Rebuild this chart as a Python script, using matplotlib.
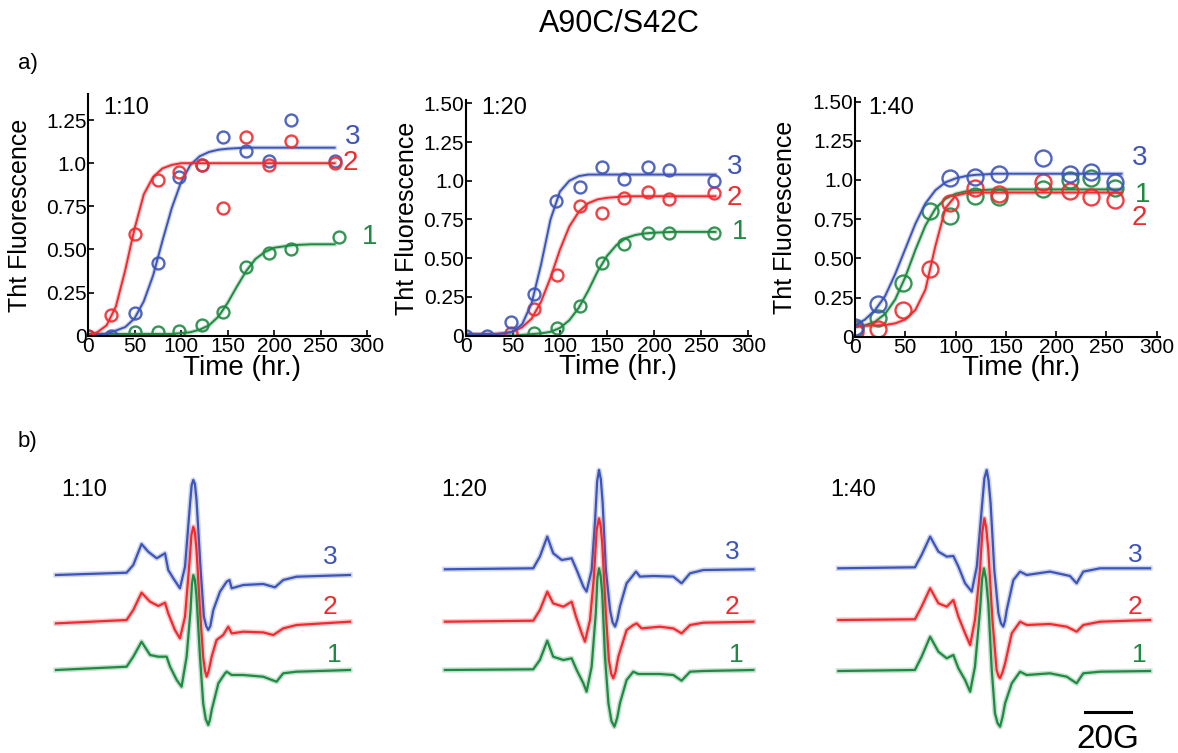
import matplotlib.pyplot as plt
import matplotlib.patheffects as pe

plt.rcParams['font.family'] = ['Liberation Sans', 'DejaVu Sans']

BLUE = '#3d55b9'
RED = '#f02a2e'
GREEN = '#1f8a42'
W, H = 1178, 753

# ---- ThT kinetics (hr, normalised fluorescence) ----
# 1:10
t10 = [0, 25, 50, 75, 98, 122, 145, 170, 195, 218, 265]
tht10_3 = [0.0, 0.0, 0.13, 0.42, 0.92, 0.99, 1.15, 1.07, 1.01, 1.25, 1.01]
tht10_2 = [0.0, 0.12, 0.59, 0.90, 0.95, 0.99, 0.74, 1.15, 0.99, 1.13, 1.00]
t10_1 = [50, 75, 98, 122, 145, 170, 195, 218, 270]
tht10_1 = [0.02, 0.02, 0.03, 0.06, 0.14, 0.40, 0.48, 0.50, 0.57]
# 1:20
t20 = [0, 23, 48, 73, 96, 121, 145, 168, 193, 216, 263]
tht20_3 = [0.0, 0.0, 0.09, 0.27, 0.87, 0.96, 1.09, 1.01, 1.09, 1.07, 1.00]
t20_2 = [48, 73, 97, 121, 145, 168, 193, 216, 263]
tht20_2 = [0.02, 0.17, 0.39, 0.84, 0.79, 0.89, 0.93, 0.88, 0.92]
t20_1 = [73, 97, 121, 145, 168, 193, 216, 263]
tht20_1 = [0.02, 0.05, 0.19, 0.47, 0.59, 0.66, 0.66, 0.66]
# 1:40
t40 = [0, 23, 48, 75, 94, 119, 143, 187, 214, 235, 259]
t40_3 = [0, 23, 94, 119, 143, 187, 214, 235, 259]
tht40_3 = [0.06, 0.21, 1.01, 1.02, 1.04, 1.14, 1.04, 1.05, 0.99]
tht40_2 = [0.03, 0.05, 0.17, 0.43, 0.85, 0.95, 0.91, 0.99, 0.93, 0.89, 0.87]
tht40_1 = [0.05, 0.12, 0.34, 0.80, 0.77, 0.90, 0.89, 0.94, 1.00, 1.01, 0.95]

# sigmoidal fits, sampled along the fitted curves
fit_t = [0, 10, 20, 30, 40, 50, 60, 70, 80, 90, 100, 110, 120, 130, 140,
         150, 160, 170, 180, 190, 200, 220, 240, 265]
fit10_3 = [0.0, 0.01, 0.01, 0.03, 0.05, 0.10, 0.20, 0.35, 0.55, 0.74, 0.89, 0.99,
           1.04, 1.065, 1.078, 1.084, 1.087, 1.09, 1.09, 1.09, 1.09, 1.09, 1.09, 1.09]
fit10_2 = [0.0, 0.02, 0.06, 0.17, 0.38, 0.62, 0.82, 0.92, 0.97, 0.99, 1.0, 1.0,
           1.0, 1.0, 1.0, 1.0, 1.0, 1.0, 1.0, 1.0, 1.0, 1.0, 1.0, 1.0]
fit10_1 = [0.01, 0.01, 0.01, 0.01, 0.01, 0.01, 0.01, 0.01, 0.01, 0.01, 0.015, 0.02,
           0.035, 0.06, 0.11, 0.19, 0.285, 0.375, 0.445, 0.485, 0.51, 0.525, 0.53, 0.53]
fit20_3 = [0.01, 0.01, 0.01, 0.01, 0.015, 0.025, 0.075, 0.21, 0.46, 0.75, 0.93, 1.0,
           1.03, 1.04, 1.04, 1.04, 1.04, 1.04, 1.04, 1.04, 1.04, 1.04, 1.04, 1.04]
fit20_2 = [0.01, 0.01, 0.01, 0.01, 0.015, 0.025, 0.055, 0.11, 0.22, 0.375, 0.555, 0.705,
           0.80, 0.855, 0.88, 0.89, 0.895, 0.90, 0.90, 0.90, 0.90, 0.90, 0.90, 0.90]
fit20_1 = [0.0, 0.0, 0.0, 0.0, 0.0, 0.0, 0.005, 0.01, 0.015, 0.025, 0.05, 0.10,
           0.18, 0.29, 0.415, 0.515, 0.585, 0.63, 0.65, 0.66, 0.665, 0.67, 0.67, 0.67]
fit40_3 = [0.07, 0.11, 0.17, 0.26, 0.40, 0.56, 0.72, 0.85, 0.935, 0.985, 1.01, 1.025,
           1.033, 1.036, 1.04, 1.04, 1.04, 1.04, 1.04, 1.04, 1.04, 1.04, 1.04, 1.04]
fit40_2 = [0.07, 0.07, 0.072, 0.075, 0.085, 0.11, 0.17, 0.30, 0.58, 0.82, 0.90, 0.915,
           0.92, 0.92, 0.92, 0.92, 0.92, 0.92, 0.92, 0.92, 0.92, 0.92, 0.92, 0.92]
fit40_1 = [0.06, 0.072, 0.096, 0.146, 0.238, 0.38, 0.553, 0.709, 0.818, 0.88, 0.912, 0.927,
           0.934, 0.937, 0.94, 0.94, 0.94, 0.94, 0.94, 0.94, 0.94, 0.94, 0.94, 0.94]

# ---- EPR first-derivative spectra (field in G from centre line, signal a.u.) ----
field10_3 = [-59.7, -29.0, -26.1, -22.5, -19.6, -15.9, -12.3, -10.9, -8.7, -5.8, -3.6, -1.4, -0.7, 0, 0.7,
             1.4, 3.2, 4.6, 5.6, 6.5, 7.4, 8.7, 11.6, 14.5, 15.7, 16.7, 21.7, 30.4, 35.5, 39.1, 44.9, 68.1]
epr10_3 = [0, 2.3, 10, 31, 23.3, 16.7, 21.7, 5, -3.3, -13.3, 8.3, 71.7, 90, 95, 91,
           75, 5, -41.7, -51, -55, -51, -35, -16.7, -6.7, -5, -13.3, -10, -9, -12.3, -5, -1.7, 0]
field10_2 = [-59.7, -29.0, -26.1, -22.5, -18.8, -15.2, -12.3, -10.9, -8.0, -5.8, -3.6, -1.7, -0.8, 0, 0.7,
             1.4, 2.9, 4.3, 5.1, 5.8, 6.7, 8.0, 10.1, 13.0, 15.2, 16.7, 21.7, 30.4, 34.8, 39.1, 44.9, 68.1]
epr10_2 = [-0.7, 2.7, 12.7, 30, 21, 16.7, 20, 9.3, -7.3, -15.7, 6, 59.3, 88, 96, 90,
           72.7, 12.7, -34, -48, -54, -48, -34, -17.3, -12.3, -4, -10.7, -9, -9.7, -12.3, -5.7, -2.3, 1]
field10_1 = [-59.7, -29.0, -26.1, -22.5, -18.8, -15.2, -11.6, -10.1, -7.2, -5.1, -2.9, -1.2, -0.6, 0, 0.7,
             1.4, 2.9, 4.3, 5.4, 6.5, 7.2, 8.0, 10.9, 13.8, 14.5, 16.7, 21.7, 30.4, 36.2, 39.1, 44.9, 68.1]
epr10_1 = [0, 3.3, 13.3, 28.3, 15, 13.3, 13.3, 3.3, -10, -16.7, 13.3, 60, 86, 95, 90,
           73.3, 13.3, -33.3, -49, -55, -50, -40, -13.3, -3.3, -1.7, -5, -5, -6.7, -11.7, -3.3, -1.7, 0]

field20_3 = [-67.0, -28.6, -25.7, -22.5, -19.9, -16.2, -11.9, -9.7, -6.8, -5.4, -3.2, -1.7, -0.8, 0, 0.8,
             1.6, 3.0, 4.8, 5.9, 7.0, 8.0, 9.1, 12.0, 14.9, 16.1, 17.8, 23.6, 32.3, 35.9, 39.6, 45.4, 67.1]
epr20_3 = [0, 1, 12.7, 32.7, 16, 9.3, 11, -0.7, -17.3, -22.3, -0.7, 49.3, 88, 99.3, 90,
           66, -0.7, -40.7, -53, -57.3, -50, -37.3, -14, -5.7, -2.3, -7.3, -6.7, -7.3, -14, -4, -0.7, 0]
field20_2 = [-67.0, -28.6, -25.7, -22.5, -19.9, -15.5, -11.9, -10.0, -7.5, -6.1, -3.9, -2.2, -1.0, 0, 0.7,
             1.4, 2.9, 4.3, 5.3, 6.2, 7.2, 8.4, 12.0, 14.9, 16.4, 18.5, 26.5, 32.3, 35.9, 39.6, 45.4, 67.1]
epr20_2 = [0, 1, 11.7, 30, 18.3, 15, 20, 5, -11.7, -20, 1.7, 45, 92, 103.3, 96,
           78.3, 11.7, -38.3, -52, -56.7, -50, -35, -8.3, -3.3, -1.7, -6.7, -5, -6.7, -11.7, -3.3, -1, 0]
field20_1 = [-67.0, -28.6, -25.7, -22.5, -19.9, -15.5, -11.9, -9.7, -6.8, -5.4, -3.2, -1.4, -0.7, 0, 0.7,
             1.4, 2.6, 4.1, 5.4, 6.7, 7.9, 9.1, 12.0, 14.9, 17.1, 26.5, 32.3, 35.9, 39.6, 45.4, 67.1]
epr20_1 = [0, 0.7, 10, 29.3, 13.3, 10, 11.7, 0, -13.3, -21.7, 3.3, 56.7, 92, 101.7, 94,
           76.7, 13.3, -33.3, -51, -56.7, -48, -33.3, -10, -1.7, -4, -4, -5, -10.7, -1.7, -1, 0]

field40_3 = [-64.5, -31.2, -28.3, -24.6, -21.0, -17.4, -14.5, -12.3, -9.4, -6.5, -4.3, -2.2, -1.0, 0, 0.8,
             1.7, 3.3, 5.1, 6.2, 7.2, 8.0, 8.7, 11.6, 14.5, 17.4, 27.5, 36.2, 39.1, 42.0, 49.3, 71.0]
epr40_3 = [0, 1, 13.3, 31.7, 16.7, 11.7, 12.3, 1.7, -15, -23.3, 1.7, 58.3, 90, 98.3, 88,
           65, -1.7, -45, -55, -58.3, -52, -41.7, -11.7, -3.3, -6.7, -3.3, -7.7, -15, -3.3, 0, 0]
field40_2 = [-64.5, -31.2, -28.3, -24.6, -21.0, -17.4, -14.5, -12.3, -9.4, -7.2, -5.1, -2.9, -1.9, -1.0, -0.2,
             0.7, 2.5, 4.3, 5.1, 5.8, 6.9, 8.0, 10.9, 14.5, 17.4, 27.5, 34.8, 39.1, 42.0, 49.3, 71.0]
epr40_2 = [0, 0.7, 13.3, 31.7, 16.7, 13.3, 20, 3.3, -13.3, -25, 0, 50, 88, 101.7, 92,
           70, 0, -50, -56, -58.3, -52, -43.3, -13.3, -1.7, -5, -4, -6.7, -11.7, -5, -1.7, 0]
field40_1 = [-64.5, -31.2, -28.3, -24.6, -21.0, -17.4, -14.5, -12.3, -9.4, -7.2, -5.1, -2.9, -2.0, -1.2, -0.3,
             0.7, 2.2, 3.6, 4.7, 5.8, 6.9, 8.0, 10.9, 14.5, 17.4, 27.5, 34.8, 39.1, 42.0, 49.3, 71.0]
epr40_1 = [0, 1, 14.3, 34.3, 19.3, 12.7, 16, 2.7, -9, -20.7, 4.3, 61, 92, 102.7, 92,
           67.7, 1, -42.3, -52, -55.7, -46, -32.3, -12.3, -0.7, -4, -2.3, -5.7, -12.3, -2.3, -0.7, 0]

yticks_10 = [0, 0.25, 0.5, 0.75, 1.0, 1.25]
yticks_20 = [0, 0.25, 0.5, 0.75, 1.0, 1.25, 1.5]
ytick_labels = ['0', '0.25', '0.50', '0.75', '1.0', '1.25', '1.50']
xticks = [0, 50, 100, 150, 200, 250, 300]

fig = plt.figure(figsize=(W / 100, H / 100), dpi=100)


def px_axes(x0, y0, x1, y1):
    # axes box given in pixels, y measured from the top edge
    return fig.add_axes([x0 / W, 1 - y1 / H, (x1 - x0) / W, (y1 - y0) / H])


def px_text(x, y, s, **kw):
    fig.text(x / W, 1 - y / H, s, **kw)


def halo(color, w=3.2):
    return [pe.Stroke(linewidth=w, foreground=color, alpha=0.25), pe.Normal()]


def kinetics(ax, series, ymax, yticks, ms, tag, tag_xy, labels, label_x, lab_x):
    ax.set_xlim(0, 303)
    ax.set_ylim(0, ymax)
    for tt, yy, ft, fy, c in series:
        ax.plot(ft, fy, color=c, lw=1.4, path_effects=halo(c))
        ax.plot(tt, yy, 'o', ms=ms, mfc='none', mec=c, mew=1.7, alpha=0.9)
    for s, (lx, ly, c) in labels.items():
        ax.text(lx, ly, s, color=c, fontsize=20, ha='left', va='center')
    ax.text(tag_xy[0], tag_xy[1], tag, fontsize=17, ha='left', va='center')
    ax.set_xticks(xticks)
    ax.set_yticks(yticks)
    ax.set_yticklabels(ytick_labels[:len(yticks)])
    ax.tick_params(direction='in', length=4, width=1.2, labelsize=15, pad=1)
    for side in ('top', 'right'):
        ax.spines[side].set_visible(False)
    for side in ('left', 'bottom'):
        ax.spines[side].set_linewidth(1.5)
    ax.set_xlabel('Time (hr.)', fontsize=20)
    ax.set_ylabel('Tht Fluorescence', fontsize=18)
    ax.xaxis.set_label_coords(lab_x, -0.078)
    ax.yaxis.set_label_coords(label_x, 0.5)


ax1 = px_axes(88, 94.2, 370, 335.7)
kinetics(ax1, [(t10_1, tht10_1, fit_t, fit10_1, GREEN),
               (t10, tht10_3, fit_t, fit10_3, BLUE),
               (t10, tht10_2, fit_t, fit10_2, RED)],
         1.4, yticks_10, 8.6, '1:10', (16, 1.32),
         {'3': (276, 1.15, BLUE), '2': (274, 1.0, RED), '1': (294, 0.574, GREEN)},
         -0.2, 0.545)

ax2 = px_axes(465.7, 100.2, 751.2, 335.7)
kinetics(ax2, [(t20_1, tht20_1, fit_t, fit20_1, GREEN),
               (t20_2, tht20_2, fit_t, fit20_2, RED),
               (t20, tht20_3, fit_t, fit20_3, BLUE)],
         1.52, yticks_20, 8.6, '1:20', (17, 1.468),
         {'3': (277, 1.09, BLUE), '2': (277, 0.887, RED), '1': (282, 0.671, GREEN)},
         -0.165, 0.535)

ax3 = px_axes(855, 98.5, 1159.7, 336.7)
kinetics(ax3, [(t40, tht40_1, fit_t, fit40_1, GREEN),
               (t40, tht40_2, fit_t, fit40_2, RED),
               (t40_3, tht40_3, fit_t, fit40_3, BLUE)],
         1.52, yticks_20, 11.5, '1:40', (13, 1.458),
         {'3': (275, 1.138, BLUE), '1': (278, 0.904, GREEN), '2': (275, 0.756, RED)},
         -0.19, 0.544)

# ---- EPR panels: 2.3 px per gauss, 1 signal unit per pixel ----
epr_panels = [
    ((40, 380), 193.3, [(field10_3, epr10_3, 575.0, BLUE),
                        (field10_2, epr10_2, 622.7, RED),
                        (field10_1, epr10_1, 670.0, GREEN)]),
    ((430, 790), 599.0, [(field20_3, epr20_3, 569.3, BLUE),
                         (field20_2, epr20_2, 621.7, RED),
                         (field20_1, epr20_1, 670.0, GREEN)]),
    ((810, 1178), 986.7, [(field40_3, epr40_3, 568.3, BLUE),
                          (field40_2, epr40_2, 620.0, RED),
                          (field40_1, epr40_1, 671.0, GREEN)]),
]
epr_axes = []
for (x0, x1), xc, traces in epr_panels:
    ax = px_axes(x0, 455, x1, H)
    ax.set_xlim((x0 - xc) / 2.3, (x1 - xc) / 2.3)
    ax.set_ylim(0, H - 455)
    ax.axis('off')
    for f, s, base, c in traces:
        ax.plot(f, [v + (H - base) for v in s], color=c, lw=1.6,
                solid_joinstyle='round', path_effects=halo(c, 3.8))
    epr_axes.append(ax)

# 20 G scale bar
epr_axes[2].plot([42.7, 62.7], [H - 711.7, H - 711.7], color='black', lw=2.2)
epr_axes[2].text(52.7, H - 739, '20G', fontsize=24, ha='center', va='center')

for x, y, s in [(61.7, 490, '1:10'), (441.7, 490, '1:20'), (830, 490, '1:40')]:
    px_text(x, y, s, fontsize=17, ha='left', va='center')

for x, (y3, y2, y1) in [(323, (556.7, 606.7, 655)),
                        (725, (551.7, 606.7, 655)),
                        (1128, (555, 606.7, 655))]:
    px_text(x, y3, '3', color=BLUE, fontsize=19, ha='left', va='center')
    px_text(x, y2, '2', color=RED, fontsize=19, ha='left', va='center')
    px_text(x + 4, y1, '1', color=GREEN, fontsize=19, ha='left', va='center')

px_text(619, 24, 'A90C/S42C', fontsize=22, ha='center', va='center')
px_text(18, 64, 'a)', fontsize=16, ha='left', va='center')
px_text(18, 441, 'b)', fontsize=16, ha='left', va='center')

fig.savefig('out.png', dpi=100)
